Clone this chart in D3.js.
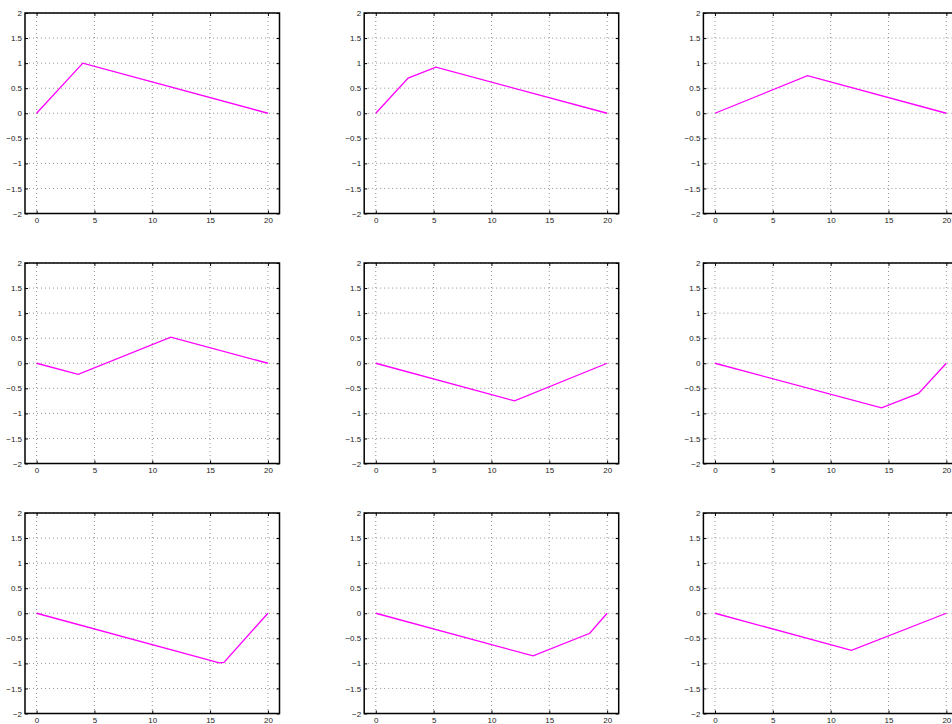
<!DOCTYPE html>
<html>
<head>
<meta charset="utf-8">
<script src="https://cdn.jsdelivr.net/npm/d3@7"></script>
<style>
  body { margin: 0; background: #fff; }
  svg { display: block; }
  .tick text { font-family: "Liberation Sans", Arial, sans-serif; font-size: 8px; fill: #222; }
</style>
</head>
<body>
<div id="chart"></div>
<script>
// one polyline per subplot (row by row)
var panelX = [
  [0, 4, 20],
  [0, 2.8, 5.2, 20],
  [0, 8, 20],
  [0, 3.6, 11.6, 20],
  [0, 12, 20],
  [0, 14.4, 17.6, 20],
  [0, 15.8, 16.2, 20],
  [0, 13.6, 18.5, 20],
  [0, 11.8, 20]
];
var panelY = [
  [0, 1, 0],
  [0, 0.7, 0.92, 0],
  [0, 0.75, 0],
  [0, -0.22, 0.52, 0],
  [0, -0.75, 0],
  [0, -0.89, -0.6, 0],
  [0, -0.99, -0.98, 0],
  [0, -0.85, -0.4, 0],
  [0, -0.74, 0]
];
var xTicks = [0, 5, 10, 15, 20];
var yTicks = [-2, -1.5, -1, -0.5, 0, 0.5, 1, 1.5, 2];

var width = 952, height = 724;
var left0 = 25, colStep = 339.2, top0 = 13, rowStep = 250;
var pw = 254.5, ph = 200.5;

var svg = d3.select("#chart").append("svg")
    .attr("width", width)
    .attr("height", height);

var fmt = function(d) { return String(d).replace("-", "\u2212"); };

panelX.forEach(function(xs, i) {
    var col = i % 3, row = Math.floor(i / 3);
    var g = svg.append("g")
        .attr("transform", "translate(" + (left0 + col * colStep) + "," + (top0 + row * rowStep) + ")");

    var x = d3.scaleLinear().domain([-1, 21]).range([0, pw]);
    var y = d3.scaleLinear().domain([-2, 2]).range([ph, 0]);

    // dotted grid
    g.append("g").selectAll("line.gx").data(xTicks).enter().append("line")
        .attr("x1", d => x(d)).attr("x2", d => x(d))
        .attr("y1", 0).attr("y2", ph)
        .attr("stroke", "#777").attr("stroke-width", 0.8)
        .attr("stroke-dasharray", "1,3");
    g.append("g").selectAll("line.gy").data(yTicks).enter().append("line")
        .attr("x1", 0).attr("x2", pw)
        .attr("y1", d => y(d)).attr("y2", d => y(d))
        .attr("stroke", "#777").attr("stroke-width", 0.8)
        .attr("stroke-dasharray", "1,3");

    // axes: ticks point inward, MATLAB style
    g.append("g").attr("transform", "translate(0," + ph + ")")
        .call(d3.axisBottom(x).tickValues(xTicks).tickSize(-3).tickPadding(3.5).tickFormat(fmt))
        .call(a => a.select(".domain").remove());
    g.append("g")
        .call(d3.axisTop(x).tickValues(xTicks).tickSize(-3).tickFormat(""))
        .call(a => a.select(".domain").remove());
    g.append("g")
        .call(d3.axisLeft(y).tickValues(yTicks).tickSize(-3).tickPadding(3).tickFormat(fmt))
        .call(a => a.select(".domain").remove());
    g.append("g").attr("transform", "translate(" + pw + ",0)")
        .call(d3.axisRight(y).tickValues(yTicks).tickSize(-3).tickFormat(""))
        .call(a => a.select(".domain").remove());

    g.selectAll(".tick line").attr("stroke", "#000");

    // frame
    g.append("rect")
        .attr("width", pw).attr("height", ph)
        .attr("fill", "none").attr("stroke", "#000").attr("stroke-width", 1.5);

    var pts = xs.map((v, k) => [v, panelY[i][k]]);
    var line = d3.line().x(d => x(d[0])).y(d => y(d[1]));
    g.append("path")
        .datum(pts)
        .attr("d", line)
        .attr("fill", "none")
        .attr("stroke", "#ff00ff")
        .attr("stroke-width", 1.3);
});
</script>
</body>
</html>
